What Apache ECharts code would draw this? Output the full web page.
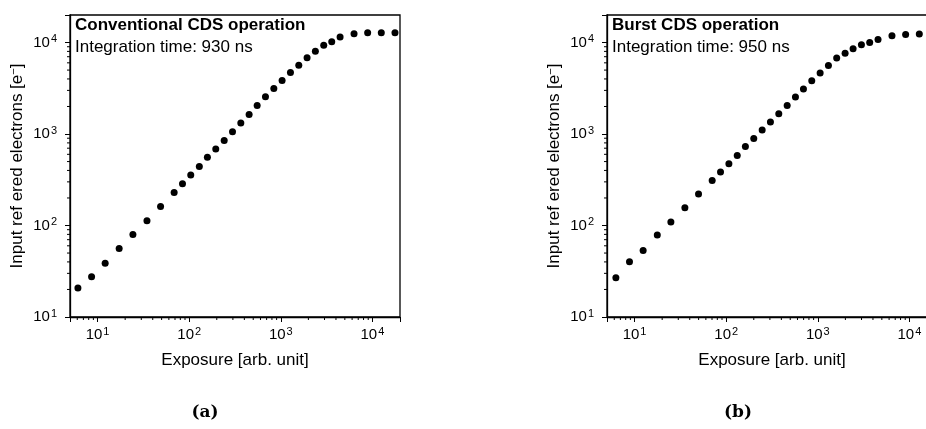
<!doctype html>
<html lang="en">
<head>
    <meta charset="UTF-8">
    <title>CDS operation</title>
    <style>
        html, body { margin: 0; padding: 0; background: #fff; }
        #main { width: 926px; height: 429px; }
    </style>
</head>
<body>
<div id="main"></div>
<script src="https://cdn.jsdelivr.net/npm/echarts@6/dist/echarts.min.js"></script>
<script>
    // (a) conventional CDS, 930 ns
    var convX = [6.1, 8.6, 12.1, 17.2, 24.3, 34.6, 48.7, 68.5, 84.5, 104, 129, 158, 195, 241, 297, 366,
        451, 552, 680, 839, 1033, 1274, 1571, 1935, 2384, 2942, 3597, 4436, 6300, 8870, 12500, 17630];
    var convY = [20.8, 27.5, 38.7, 56, 80, 113, 161, 230, 286, 356, 443, 556, 686, 851, 1059, 1318,
        1637, 2051, 2553, 3148, 3846, 4703, 5663, 6808, 8052, 9370, 10180, 11530, 12450, 12760, 12760, 12760];
    // (b) burst CDS, 950 ns
    var burstX = [6.25, 8.8, 12.4, 17.7, 24.9, 35.4, 49.9, 70.3, 86.7, 107, 132, 162, 200, 247, 304, 375,
        463, 570, 697, 859, 1060, 1306, 1607, 1986, 2427, 2993, 3684, 4543, 6450, 9090, 12820];
    var burstY = [26.8, 40.1, 53.2, 78.9, 109, 156, 221, 311, 384, 474, 584, 732, 896, 1106, 1352, 1667,
        2051, 2535, 3100, 3819, 4634, 5610, 6761, 7660, 8540, 9440, 10000, 10780, 11840, 12220, 12360];

    var minorX = [6, 7, 8, 9, 20, 30, 40, 50, 60, 70, 80, 90, 200, 300, 400, 500, 600, 700, 800, 900,
        2000, 3000, 4000, 5000, 6000, 7000, 8000, 9000];
    var minorY = [20, 30, 40, 50, 60, 70, 80, 90, 200, 300, 400, 500, 600, 700, 800, 900,
        2000, 3000, 4000, 5000, 6000, 7000, 8000, 9000];

    var xMin = 5, xMax = 20000, yMin = 10, yMax = 20000;
    var font = 'Liberation Sans, Arial, sans-serif';

    function pairs(xs, ys) {
        var out = [];
        for (var i = 0; i < xs.length; i++) out.push([xs[i], ys[i]]);
        return out;
    }

    function powLabel(v) {
        var e = Math.log10(v);
        if (Math.abs(e - Math.round(e)) > 1e-6) return '';
        return '10{s|' + Math.round(e) + '}';
    }

    var supRich = { s: { fontSize: 11, verticalAlign: 'bottom', padding: [0, 0, 7, 1], color: '#000', fontFamily: font } };

    function xAxisOf(gi) {
        return {
            type: 'log', logBase: 10, gridIndex: gi, min: xMin, max: xMax,
            name: 'Exposure [arb. unit]', nameLocation: 'middle', nameGap: 35,
            nameTextStyle: { fontFamily: font, fontSize: 17, color: '#000' },
            axisLine: { lineStyle: { color: '#000', width: 1.3 } },
            axisTick: { inside: false, length: 5, lineStyle: { color: '#000', width: 1 } },
            axisLabel: { formatter: powLabel, fontFamily: font, fontSize: 15, color: '#000', margin: 9, rich: supRich },
            splitLine: { show: false }
        };
    }

    function yAxisOf(gi) {
        return {
            type: 'log', logBase: 10, gridIndex: gi, min: yMin, max: yMax,
            name: 'Input ref ered electrons [e{s|−}]', nameLocation: 'middle', nameGap: 43,
            nameTextStyle: { fontFamily: font, fontSize: 17, color: '#000',
                rich: { s: { fontSize: 11, color: '#000', fontFamily: font, verticalAlign: 'bottom', padding: [0, 0, 8, 0] } } },
            axisLine: { lineStyle: { color: '#000', width: 1.3 } },
            axisTick: { inside: false, length: 5, lineStyle: { color: '#000', width: 1 } },
            axisLabel: { formatter: powLabel, fontFamily: font, fontSize: 15, color: '#000', margin: 13, rich: supRich },
            splitLine: { show: false }
        };
    }

    // short minor ticks, placed through the axis scales
    function minorSeries(gi, vals, dir) {
        return {
            type: 'custom', xAxisIndex: gi, yAxisIndex: gi, silent: true, clip: false,
            data: vals,
            renderItem: function (params, api) {
                var v = api.value(0);
                var p = dir === 'x' ? api.coord([v, yMin]) : api.coord([xMin, v]);
                var shape = dir === 'x'
                    ? { x1: p[0], y1: p[1], x2: p[0], y2: p[1] + 3 }
                    : { x1: p[0] - 3, y1: p[1], x2: p[0], y2: p[1] };
                return { type: 'line', shape: shape, style: { stroke: '#000', lineWidth: 1 } };
            }
        };
    }

    function dotSeries(gi, data) {
        return {
            type: 'scatter', xAxisIndex: gi, yAxisIndex: gi, data: data,
            symbol: 'circle', symbolSize: 7, itemStyle: { color: '#000', opacity: 1 }, silent: true
        };
    }

    var myChart = echarts.init(document.getElementById('main'));
    var option = {
        animation: false,
        backgroundColor: '#fff',
        grid: [
            { left: 70, top: 15, width: 330, height: 302, show: true, borderColor: '#000', borderWidth: 1.3,
                outerBoundsMode: 'none', containLabel: false },
            { left: 607, top: 15, width: 330, height: 302, show: true, borderColor: '#000', borderWidth: 1.3,
                outerBoundsMode: 'none', containLabel: false }
        ],
        title: [
            { text: 'Conventional CDS operation', left: 75, top: 17, padding: 0,
                textStyle: { fontFamily: font, fontSize: 17, fontWeight: 'bold', color: '#000' } },
            { text: 'Integration time: 930 ns', left: 75, top: 39, padding: 0,
                textStyle: { fontFamily: font, fontSize: 17, fontWeight: 'normal', color: '#000' } },
            { text: 'Burst CDS operation', left: 612, top: 17, padding: 0,
                textStyle: { fontFamily: font, fontSize: 17, fontWeight: 'bold', color: '#000' } },
            { text: 'Integration time: 950 ns', left: 612, top: 39, padding: 0,
                textStyle: { fontFamily: font, fontSize: 17, fontWeight: 'normal', color: '#000' } },
            { text: '(a)', left: 205, top: 404, textAlign: 'center', padding: 0,
                textStyle: { fontFamily: 'DejaVu Serif, serif', fontSize: 17, fontWeight: 'bold', color: '#000' } },
            { text: '(b)', left: 738, top: 404, textAlign: 'center', padding: 0,
                textStyle: { fontFamily: 'DejaVu Serif, serif', fontSize: 17, fontWeight: 'bold', color: '#000' } }
        ],
        xAxis: [xAxisOf(0), xAxisOf(1)],
        yAxis: [yAxisOf(0), yAxisOf(1)],
        series: [
            dotSeries(0, pairs(convX, convY)),
            dotSeries(1, pairs(burstX, burstY)),
            minorSeries(0, minorX, 'x'),
            minorSeries(0, minorY, 'y'),
            minorSeries(1, minorX, 'x'),
            minorSeries(1, minorY, 'y')
        ]
    };
    myChart.setOption(option);
</script>
</body>
</html>
